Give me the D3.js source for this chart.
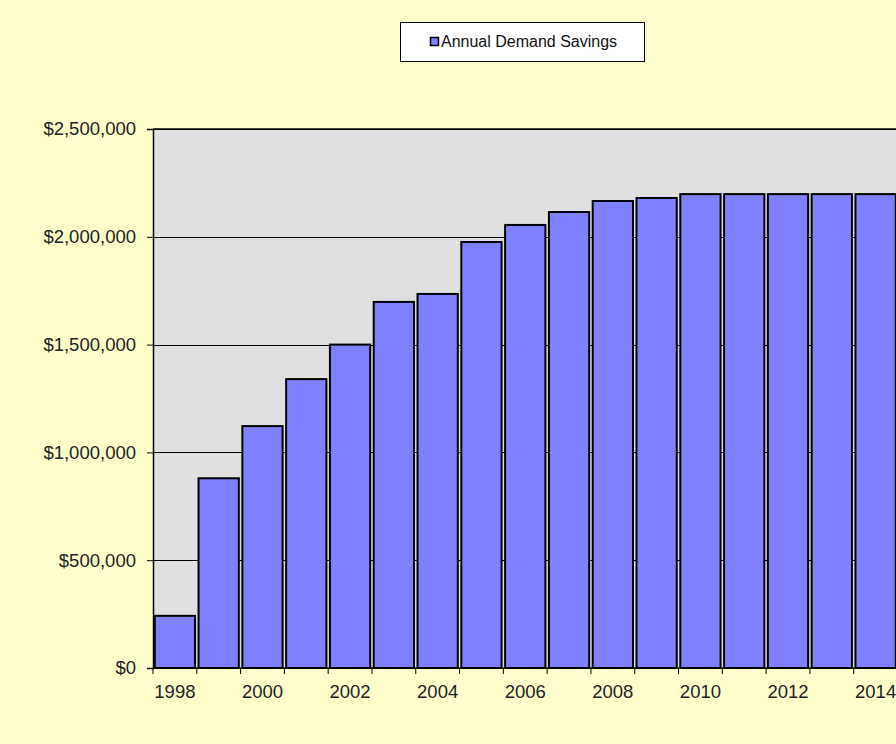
<!DOCTYPE html>
<html><head><meta charset="utf-8">
<script src="https://cdn.jsdelivr.net/npm/d3@7"></script>
<style>html,body{margin:0;padding:0;background:#FFFFCC;}svg{display:block;}</style>
</head><body>
<script>
const years = [1998,1999,2000,2001,2002,2003,2004,2005,2006,2007,2008,2009,2010,2011,2012,2013,2014];
const savings = [242000,880000,1122000,1340000,1500000,1698000,1735000,1976000,2055000,2115000,2166000,2180000,2198000,2198000,2198000,2198000,2198000];
const yTicks = [0,500000,1000000,1500000,2000000,2500000];
const seriesName = "Annual Demand Savings";

const W=896,H=744;
const svg=d3.select("body").append("svg").attr("width",W).attr("height",H);
svg.append("rect").attr("width",W).attr("height",H).attr("fill","#FFFFCC");
const m={l:153,r:W+1.5,t:129,b:668};
const x=d3.scaleBand().domain(years).range([m.l,m.r]).paddingInner(0.08).paddingOuter(0.04);
const y=d3.scaleLinear().domain([0,2500000]).range([m.b,m.t]);
const font="Liberation Sans, Arial, sans-serif";

svg.append("rect").attr("x",m.l).attr("y",m.t).attr("width",m.r-m.l).attr("height",m.b-m.t).attr("fill","#E0E0E0");
// gridlines
svg.append("g").selectAll("line").data(yTicks.slice(1)).join("line")
 .attr("x1",m.l).attr("x2",m.r).attr("y1",d=>Math.round(y(d))+0.5).attr("y2",d=>Math.round(y(d))+0.5)
 .attr("stroke","#000").attr("stroke-width",1);
// bars
svg.append("g").selectAll("rect").data(years).join("rect")
 .attr("x",(d)=>x(d)).attr("width",x.bandwidth())
 .attr("y",(d,i)=>y(savings[i])).attr("height",(d,i)=>y(0)-y(savings[i]))
 .attr("fill","#8080FF").attr("stroke","#000").attr("stroke-width",2);
// y axis
const yAxis=d3.axisLeft(y).tickValues(yTicks).tickSize(6).tickPadding(11).tickFormat(d=>"$"+d3.format(",")(d));
const gy=svg.append("g").attr("transform",`translate(${m.l},0)`).call(yAxis);
gy.select(".domain").attr("stroke","#000").attr("stroke-width",1.5);
gy.selectAll("text").attr("font-family",font).attr("font-size",18.5).attr("fill","#222");
// x axis: ticks at category boundaries
const bounds=d3.range(years.length+1).map(i=>m.l+i*(m.r-m.l)/years.length);
const gx=svg.append("g");
gx.append("line").attr("x1",m.l).attr("x2",m.r).attr("y1",m.b).attr("y2",m.b).attr("stroke","#000").attr("stroke-width",1.5);
gx.selectAll("line.t").data(bounds).join("line").attr("class","t")
 .attr("x1",d=>d).attr("x2",d=>d).attr("y1",m.b).attr("y2",m.b+6).attr("stroke","#000");
gx.selectAll("text").data(years.filter((d,i)=>i%2===0)).join("text")
 .attr("x",d=>x(d)+x.bandwidth()/2).attr("y",m.b+29.5).attr("text-anchor","middle")
 .attr("font-family",font).attr("font-size",18.5).attr("fill","#222").text(d=>d);
// top border
svg.append("line").attr("x1",m.l).attr("x2",m.r).attr("y1",m.t).attr("y2",m.t).attr("stroke","#000").attr("stroke-width",1.5);
// legend
const lg=svg.append("g");
lg.append("rect").attr("x",400.5).attr("y",22.5).attr("width",244).attr("height",39).attr("fill","#fff").attr("stroke","#000");
lg.append("rect").attr("x",430.5).attr("y",37.5).attr("width",8).attr("height",8).attr("fill","#8080FF").attr("stroke","#000").attr("stroke-width",1.5);
lg.append("text").attr("x",441).attr("y",47).attr("font-family",font).attr("font-size",16).attr("fill","#111").text(seriesName);
</script>
</body></html>
